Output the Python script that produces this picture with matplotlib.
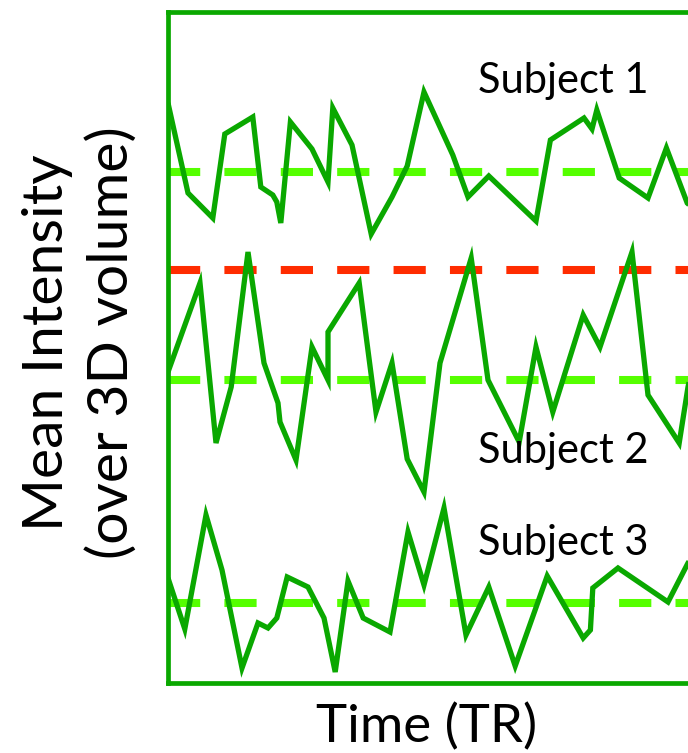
import matplotlib
matplotlib.use("Agg")
import matplotlib.pyplot as plt

# Time axis in TR units; intensity in arbitrary units
t1 = [0, 2.5, 5.6, 7.1, 10.6, 11.6, 13.1, 13.6, 14.1, 15.3, 18, 20, 20.6, 23, 25.4, 28, 29.9,
      32, 35.6, 37.5, 40.1, 46, 47.8, 52, 53, 53.6, 56.4, 60, 62.3, 64.9, 66.5]
s1 = [58.0, 49.0, 46.5, 54.9, 56.6, 49.6, 48.8, 48.1, 46.0, 56.1, 53.4, 50.1, 57.5, 53.8, 44.9, 48.6, 51.7,
      59.1, 52.8, 48.6, 50.7, 46.2, 54.3, 56.5, 55.4, 57.3, 50.5, 48.5, 53.5, 48.0, 46.8]

t2 = [0, 4, 6, 7.9, 10, 12, 13.75, 14, 16, 18, 20, 20, 23.9, 26, 28, 29.9, 32, 34, 35.6,
      37.9, 40, 43.9, 46, 48.1, 51.9, 54, 58, 60, 63.9, 65, 66.5]
s2 = [31.1, 40.0, 24.0, 29.6, 43.1, 32.0, 28.0, 26.1, 22.3, 33.6, 30.3, 35.1, 40.0, 27.1, 32.0, 22.4, 19.1,
      32.0, 36.3, 42.5, 30.3, 24.1, 33.6, 27.1, 36.8, 33.6, 43.1, 28.8, 24.0, 29.6, 35.3]

t3 = [0, 2.1, 4.75, 6.75, 9.25, 11.25, 12.5, 13.6, 14.9, 17.5, 19.5, 20.9, 22.5, 24.4, 27.75, 30,
      32, 34.5, 37.25, 40.1, 43.4, 47.4, 51.9, 52.8, 53.1, 56.25, 62.5, 65, 66.5]
s3 = [10.5, 5.4, 16.8, 11.3, 1.5, 6.0, 5.5, 6.5, 10.6, 9.6, 6.5, 1.1, 10.2, 6.5, 5.1, 15.1,
      9.8, 17.5, 4.8, 9.6, 1.7, 10.7, 4.5, 5.3, 9.5, 11.5, 8.1, 12.0, 13.8]

means = [51.1, 30.3, 8.0]
threshold = 41.3
labels = ["Subject 1", "Subject 2", "Subject 3"]
label_pos = [(38.75, 59.0), (38.75, 22.0), (38.75, 12.8)]

GREEN = "#0aa800"
LIME = "#55ff00"
RED = "#ff2c00"

fig = plt.figure(figsize=(6.88, 7.53), dpi=100)
ax = fig.add_axes([168 / 688, 70 / 753, 528 / 688, 671 / 753])
ax.set_xlim(0, 66)
ax.set_ylim(0, 67.1)

for t, s in [(t1, s1), (t2, s2), (t3, s3)]:
    ax.plot(t, s, color=GREEN, lw=3.8, solid_joinstyle="miter", solid_capstyle="butt", zorder=3)

for m in means:
    ax.axhline(m, color=LIME, lw=5.8, dashes=(4, 3), dash_capstyle="butt", zorder=2)
ax.axhline(threshold, color=RED, lw=5.8, dashes=(4, 3), dash_capstyle="butt", zorder=2)

for lab, (x, y) in zip(labels, label_pos):
    ax.text(x, y, lab, fontsize=30, family="Lato", color="black", ha="left", va="baseline", zorder=4)

for side in ["top", "bottom", "left", "right"]:
    ax.spines[side].set_color(GREEN)
    ax.spines[side].set_linewidth(3.4)
ax.set_xticks([])
ax.set_yticks([])

fig.text(80 / 688, 1 - 343 / 753, "Mean Intensity\n(over 3D volume)", rotation=90,
         ha="center", va="center", multialignment="center", fontsize=41, family="Lato",
         linespacing=1.32)
fig.text(427 / 688, 1 - 727 / 753, "Time (TR)", ha="center", va="center", fontsize=38, family="Lato")

fig.savefig("out.png", dpi=100)
